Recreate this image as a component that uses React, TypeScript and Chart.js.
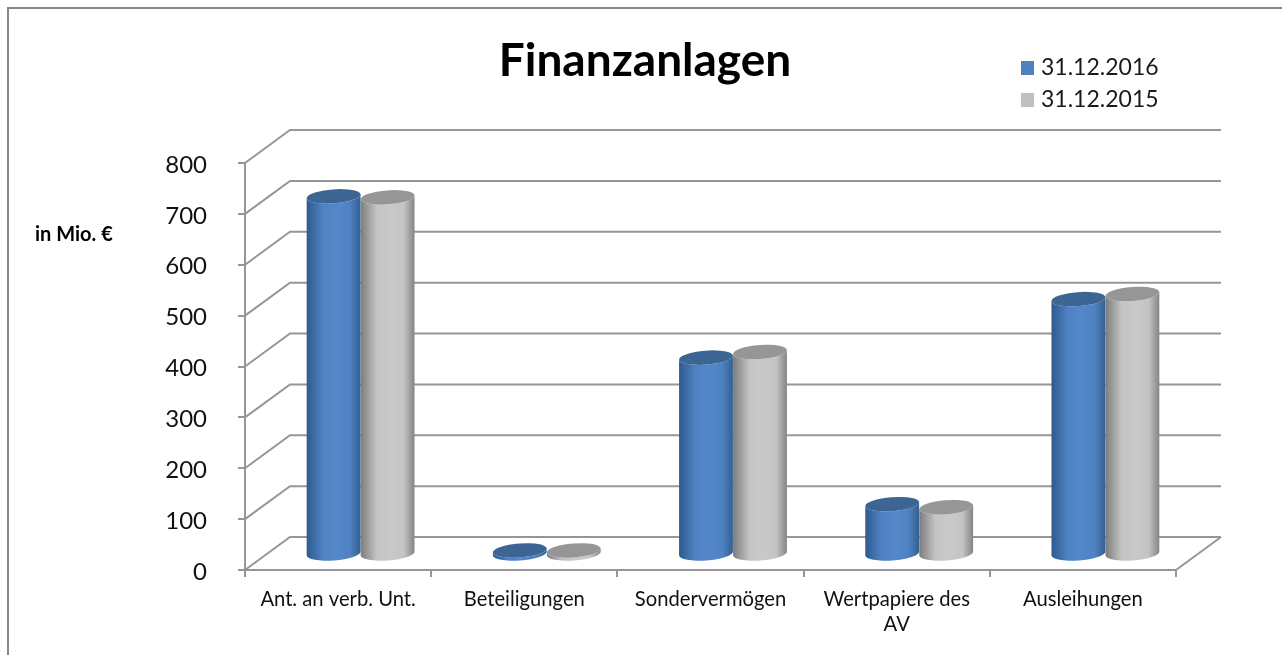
import React, { useEffect, useRef } from "react";
import { Chart, registerables } from "chart.js";

Chart.register(...registerables);

const categories: (string | string[])[] = [
  "Ant. an verb. Unt.",
  "Beteiligungen",
  "Sondervermögen",
  ["Wertpapiere des", "AV"],
  "Ausleihungen",
];
const values2016 = [702, 6, 385, 97, 500];
const values2015 = [700, 6, 396, 91, 510];
const series2016Label = "31.12.2016";
const series2015Label = "31.12.2015";
const chartTitle = "Finanzanlagen";
const unitLabel = "in Mio. €";

const FONT = "Lato, Carlito, sans-serif";
const GRID = "#969696";
const DEPTH_X = 45;
const DEPTH_Y = 33;
const TILT = -0.075;
const RY = 7;

const palette = [
  { edge: "#2e5a8e", mid: "#5488ca", mid2: "#4f82c2", right: "#33608f", top: "#3c6594", legend: "#4f81bd" },
  { edge: "#7c7c7c", mid: "#c9c9c9", mid2: "#c4c4c4", right: "#848484", top: "#969696", legend: "#bfbfbf" },
];

function cylinder(ctx: CanvasRenderingContext2D, cx: number, rx: number, topY: number, baseY: number, c: typeof palette[0]) {
  const g = ctx.createLinearGradient(cx - rx, 0, cx + rx, 0);
  g.addColorStop(0, c.edge);
  g.addColorStop(0.3, c.mid2);
  g.addColorStop(0.55, c.mid);
  g.addColorStop(0.8, c.mid2);
  g.addColorStop(1, c.right);
  ctx.beginPath();
  ctx.ellipse(cx, baseY, rx, RY, TILT, 0, Math.PI);
  ctx.ellipse(cx, topY, rx, RY, TILT, Math.PI, 0, true);
  ctx.closePath();
  ctx.fillStyle = g;
  ctx.fill();
  ctx.beginPath();
  ctx.ellipse(cx, topY, rx, RY, TILT, 0, Math.PI * 2);
  ctx.fillStyle = c.top;
  ctx.fill();
}

const wallPlugin = {
  id: "wall",
  afterLayout(chart: any) {
    const l = chart.legend;
    l.left = 1016.5;
    l.right = 1275;
    l.top = 47;
    l.bottom = 126;
    l.width = l.right - l.left;
    l.height = l.bottom - l.top;
    const t = chart.titleBlock;
    t.left = 0;
    t.right = 1290;
    t.width = 1290;
  },
  beforeDraw(chart: any) {
    const { ctx, chartArea: a, scales } = chart;
    ctx.save();
    // outer frame
    ctx.strokeStyle = "#868686";
    ctx.lineWidth = 2;
    ctx.beginPath();
    ctx.moveTo(8, 655);
    ctx.lineTo(8, 8);
    ctx.lineTo(1282, 8);
    ctx.stroke();
    // walls
    ctx.strokeStyle = GRID;
    ctx.lineWidth = 2;
    ctx.beginPath();
    for (const t of scales.y.ticks) {
      const y = scales.y.getPixelForValue(t.value);
      ctx.moveTo(a.left, y);
      ctx.lineTo(a.left + DEPTH_X, y - DEPTH_Y);
      ctx.lineTo(a.right + DEPTH_X, y - DEPTH_Y);
    }
    ctx.moveTo(a.right, a.bottom);
    ctx.lineTo(a.right + DEPTH_X, a.bottom - DEPTH_Y);
    ctx.stroke();
    // unit label
    ctx.fillStyle = "#000";
    ctx.font = `bold 20px ${FONT}`;
    ctx.textAlign = "left";
    ctx.textBaseline = "middle";
    ctx.fillText(unitLabel, 35, 235);
    ctx.restore();
  },
  beforeDatasetDraw(chart: any, args: any) {
    const { ctx, scales } = chart;
    const meta = chart.getDatasetMeta(args.index);
    const base = scales.y.getPixelForValue(0) - DEPTH_Y / 2;
    ctx.save();
    meta.data.forEach((bar: any) => {
      cylinder(ctx, bar.x + DEPTH_X / 2, bar.width / 2, bar.y - DEPTH_Y / 2, base, palette[args.index]);
    });
    ctx.restore();
    return false;
  },
};

function legendSwatch(color: string) {
  const c = document.createElement("canvas");
  c.width = 13;
  c.height = 14;
  const x = c.getContext("2d")!;
  x.fillStyle = color;
  x.fillRect(0, 0, 13, 14);
  return c;
}

export default function App() {
  const ref = useRef<HTMLCanvasElement>(null);
  useEffect(() => {
    const swatches = palette.map((p) => legendSwatch(p.legend));
    const chart = new Chart(ref.current!, {
      type: "bar",
      data: {
        labels: categories as any,
        datasets: [
          { label: series2016Label, data: values2016, backgroundColor: palette[0].legend },
          { label: series2015Label, data: values2015, backgroundColor: palette[1].legend },
        ],
      },
      plugins: [wallPlugin],
      options: {
        responsive: false,
        animation: false,
        layout: { padding: { left: 0, right: 106, top: 0, bottom: 0 }, autoPadding: false },
        datasets: { bar: { categoryPercentage: 0.58, barPercentage: 1 } },
        plugins: {
          tooltip: { enabled: false },
          title: {
            display: true,
            text: chartTitle,
            color: "#000",
            font: { family: FONT, size: 46, weight: "bold", lineHeight: 1.2 },
            padding: { top: 34, bottom: 163 - 34 - 55.2 },
          },
          legend: {
            position: "chartArea",
            align: "start",
            labels: {
              color: "#1a1a1a",
              font: { family: FONT, size: 23 },
              usePointStyle: true,
              pointStyleWidth: 4,
              padding: 9,
              generateLabels(c: any) {
                const items = Chart.defaults.plugins.legend.labels.generateLabels(c);
                return items.map((it: any, i: number) => ({ ...it, pointStyle: swatches[i] }));
              },
            },
          } as any,
        },
        scales: {
          x: {
            afterFit: (s: any) => { s.height = 85; },
            border: { color: GRID, width: 2 },
            grid: { drawOnChartArea: false, tickLength: 7, color: GRID, lineWidth: 2, offset: true },
            ticks: { color: "#111", font: { family: FONT, size: 20.2, lineHeight: 1.25 }, padding: 9.5, maxRotation: 0, autoSkip: false },
          },
          y: {
            min: 0,
            max: 800,
            afterFit: (s: any) => { s.width = 245; },
            border: { color: GRID, width: 2 },
            grid: { drawOnChartArea: false, tickLength: 7, color: GRID, lineWidth: 2 },
            ticks: { stepSize: 100, color: "#111", font: { family: FONT, size: 24 }, padding: 31, labelOffset: 2 },
          },
        },
      } as any,
    });
    return () => chart.destroy();
  }, []);
  return (
    <div style={{ position: "absolute", left: 0, top: 0, width: 1282, height: 655, background: "#fff", overflow: "hidden" }}>
      <canvas ref={ref} width={1282} height={655} style={{ display: "block", filter: "blur(0.6px)" }} />
    </div>
  );
}
